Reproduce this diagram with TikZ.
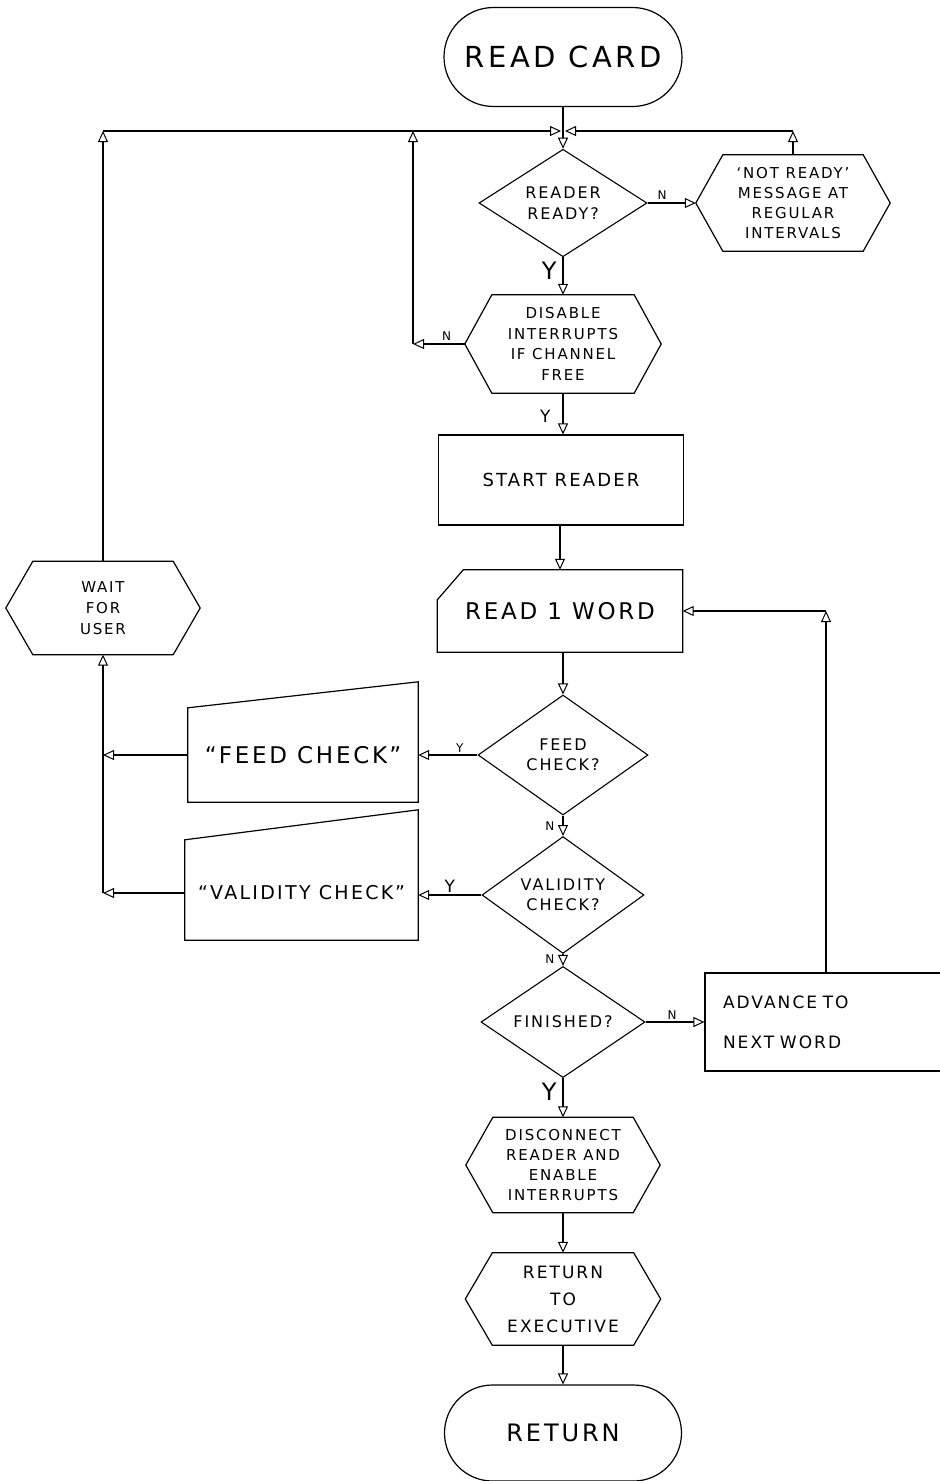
\documentclass[tikz,border=0pt]{standalone}
\usepackage{fontspec}
\setmainfont{DejaVu Sans}[LetterSpace=12]
\usetikzlibrary{arrows.meta,shapes.geometric,shapes.misc}
\tikzset{
  every node/.style={align=center, inner sep=0pt, font=\fontsize{16}{20.5}\selectfont},
  line/.style={line width=1.1pt},
  arr/.style={line, -{Triangle[open,length=11pt,width=10pt,line width=1pt]}},
  term/.style={rounded rectangle, draw, line width=1.2pt},
  dia/.style={diamond, draw, line width=1.1pt},
  hexbox/.style={rectangle},
  outl/.style={line width=1.2pt},
  boxn/.style={rectangle, draw, line width=1.2pt},
  plain/.style={rectangle},
  lab/.style={font=\fontsize{12}{12}\selectfont},
  labbig/.style={font=\fontsize{24}{24}\selectfont},
  labmid/.style={font=\fontsize{17}{17}\selectfont},
}
\begin{document}
\begin{tikzpicture}[x=1pt,y=-1pt]
\clip (0,0) rectangle (940,1481);
\fill[white] (0,0) rectangle (940,1481);

% ---- nodes ----
\node[term, minimum width=238pt, minimum height=99pt, font=\fontsize{29}{29}\selectfont] (rc) at (563,57) {READ CARD};
\node[dia, minimum width=168pt, minimum height=96pt] (rr) at (563,203) {READER\\READY?};
\node[hexbox, minimum width=194pt, minimum height=96pt, font=\fontsize{15}{20}\selectfont] (nr) at (793,203) {`NOT READY'\\MESSAGE AT\\REGULAR\\INTERVALS};
\node[hexbox, minimum width=196pt, minimum height=98pt, font=\fontsize{15}{20.5}\selectfont] (dis) at (563,344) {DISABLE\\INTERRUPTS\\IF CHANNEL\\FREE};
\node[boxn, minimum width=245pt, minimum height=90pt, font=\fontsize{18}{18}\selectfont] (sr) at (561,480) {START READER};
\node[plain, minimum width=245pt, minimum height=82pt, font=\fontsize{23}{23}\selectfont] (r1) at (560,611) {READ 1 WORD};
\node[dia, minimum width=170pt, minimum height=120pt] (fc) at (563,755) {FEED\\CHECK?};
\node[plain, minimum width=230pt, minimum height=90pt, font=\fontsize{23}{23}\selectfont] (fcb) at (303,755) {``FEED CHECK''};
\node[dia, minimum width=162pt, minimum height=82pt] (vc) at (563,895) {VALIDITY\\CHECK?};
\node[plain, minimum width=233pt, minimum height=94pt, font=\fontsize{19}{19}\selectfont] (vcb) at (301.5,893) {``VALIDITY CHECK''};
\node[dia, minimum width=164pt, minimum height=95pt, font=\fontsize{16}{16}\selectfont] (fin) at (563,1022) {FINISHED?};
\node[boxn, text width=200pt, inner xsep=18pt, minimum height=98pt, align=left, font=\fontsize{17}{40}\selectfont] (adv) at (823,1022) {ADVANCE TO\\NEXT WORD};
\node[hexbox, minimum width=194pt, minimum height=95pt, font=\fontsize{15}{20}\selectfont] (disc) at (563,1165) {DISCONNECT\\READER AND\\ENABLE\\INTERRUPTS};
\node[hexbox, minimum width=195pt, minimum height=92pt, font=\fontsize{17}{27}\selectfont] (rte) at (563,1299) {RETURN\\TO\\EXECUTIVE};
\node[term, minimum width=237pt, minimum height=96pt, font=\fontsize{24}{24}\selectfont] (ret) at (563,1433) {RETURN};
\node[hexbox, minimum width=194pt, minimum height=93pt, font=\fontsize{15}{21}\selectfont] (wait) at (103,608) {WAIT\\FOR\\USER};

% hexagon outlines
\foreach \n in {nr,dis,disc,rte,wait}{
  \draw[outl] ([xshift=27pt]\n.north west) -- ([xshift=-27pt]\n.north east) -- (\n.east)
     -- ([xshift=-27pt]\n.south east) -- ([xshift=27pt]\n.south west) -- (\n.west) -- cycle;
}
% card outline (read 1 word)
\draw[outl] ([xshift=26pt]r1.north west) -- (r1.north east) -- (r1.south east) -- (r1.south west)
   -- ([yshift=-30pt]r1.north west) -- cycle;
% manual-input outlines
\draw[outl] ([yshift=2pt]fcb.north west) -- ([yshift=28pt]fcb.north east) -- ([yshift=-2pt]fcb.south east)
   -- ([yshift=-2pt]fcb.south west) -- cycle;
\draw[outl] ([yshift=6pt]vcb.north west) -- ([yshift=36pt]vcb.north east) -- (vcb.south east)
   -- (vcb.south west) -- cycle;

% ---- junction coordinates ----
\coordinate (tl) at (103,131);
\coordinate (tm) at (413,131);
\coordinate (tjl) at (561,131);
\coordinate (tjr) at (565,131);
\coordinate (tr) at (793,131);
\coordinate (dn) at (413,344);
\coordinate (lf) at (103,755);
\coordinate (lv) at (103,893);
\coordinate (ra) at (826,611);

% ---- connectors ----
\draw[arr] (rc.south) -- (rr.north);
\draw[arr] (wait.north) -- (tl);
\draw[arr] (tl) -- (tjl);
\draw[arr] (dis.west) -- node[lab, above, pos=0.35, yshift=3pt]{N} (dn);
\draw[arr] (dn) -- (tm);
\draw[arr] (rr.east) -- node[lab, above, pos=0.3, yshift=3pt]{N} (nr.west);
\draw[arr] (nr.north) -- (tr);
\draw[arr] (tr) -- (tjr);
\draw[arr] (rr.south) -- node[labbig, left, pos=0.35, xshift=-6pt]{Y} (dis.north);
\draw[arr] (dis.south) -- node[labmid, left, pos=0.55, xshift=-12pt]{Y} (sr.north -| dis.south);
\draw[arr] (sr.south -| r1.north) -- (r1.north);
\draw[arr] (r1.south -| fc.north) -- (fc.north);
\draw[arr] (fc.west) -- node[lab, above, pos=0.3, yshift=2pt]{Y} (fc.west -| fcb.east);
\draw[arr] (fcb.west) -- (lf);
\draw[arr] (fc.south) -- node[lab, left, pos=0.5, xshift=-8pt]{N} (vc.north);
\draw[arr] (vc.west) -- node[labmid, above, pos=0.5, yshift=2pt]{Y} (vc.west -| vcb.east);
\draw[arr] (vcb.west) -- (lv);
\draw[arr] (lv) -- (wait.south);
\draw[arr] (vc.south) -- node[lab, left, pos=0.4, xshift=-8pt]{N} (fin.north);
\draw[arr] (fin.east) -- node[lab, above, pos=0.45, yshift=2pt]{N} (adv.west);
\draw[arr] (adv.north -| ra) -- (ra);
\draw[arr] (ra) -- (r1.east);
\draw[arr] (fin.south) -- node[labbig, left, pos=0.35, xshift=-6pt]{Y} (disc.north);
\draw[arr] (disc.south) -- (rte.north);
\draw[arr] (rte.south) -- (ret.north);
\end{tikzpicture}
\end{document}
